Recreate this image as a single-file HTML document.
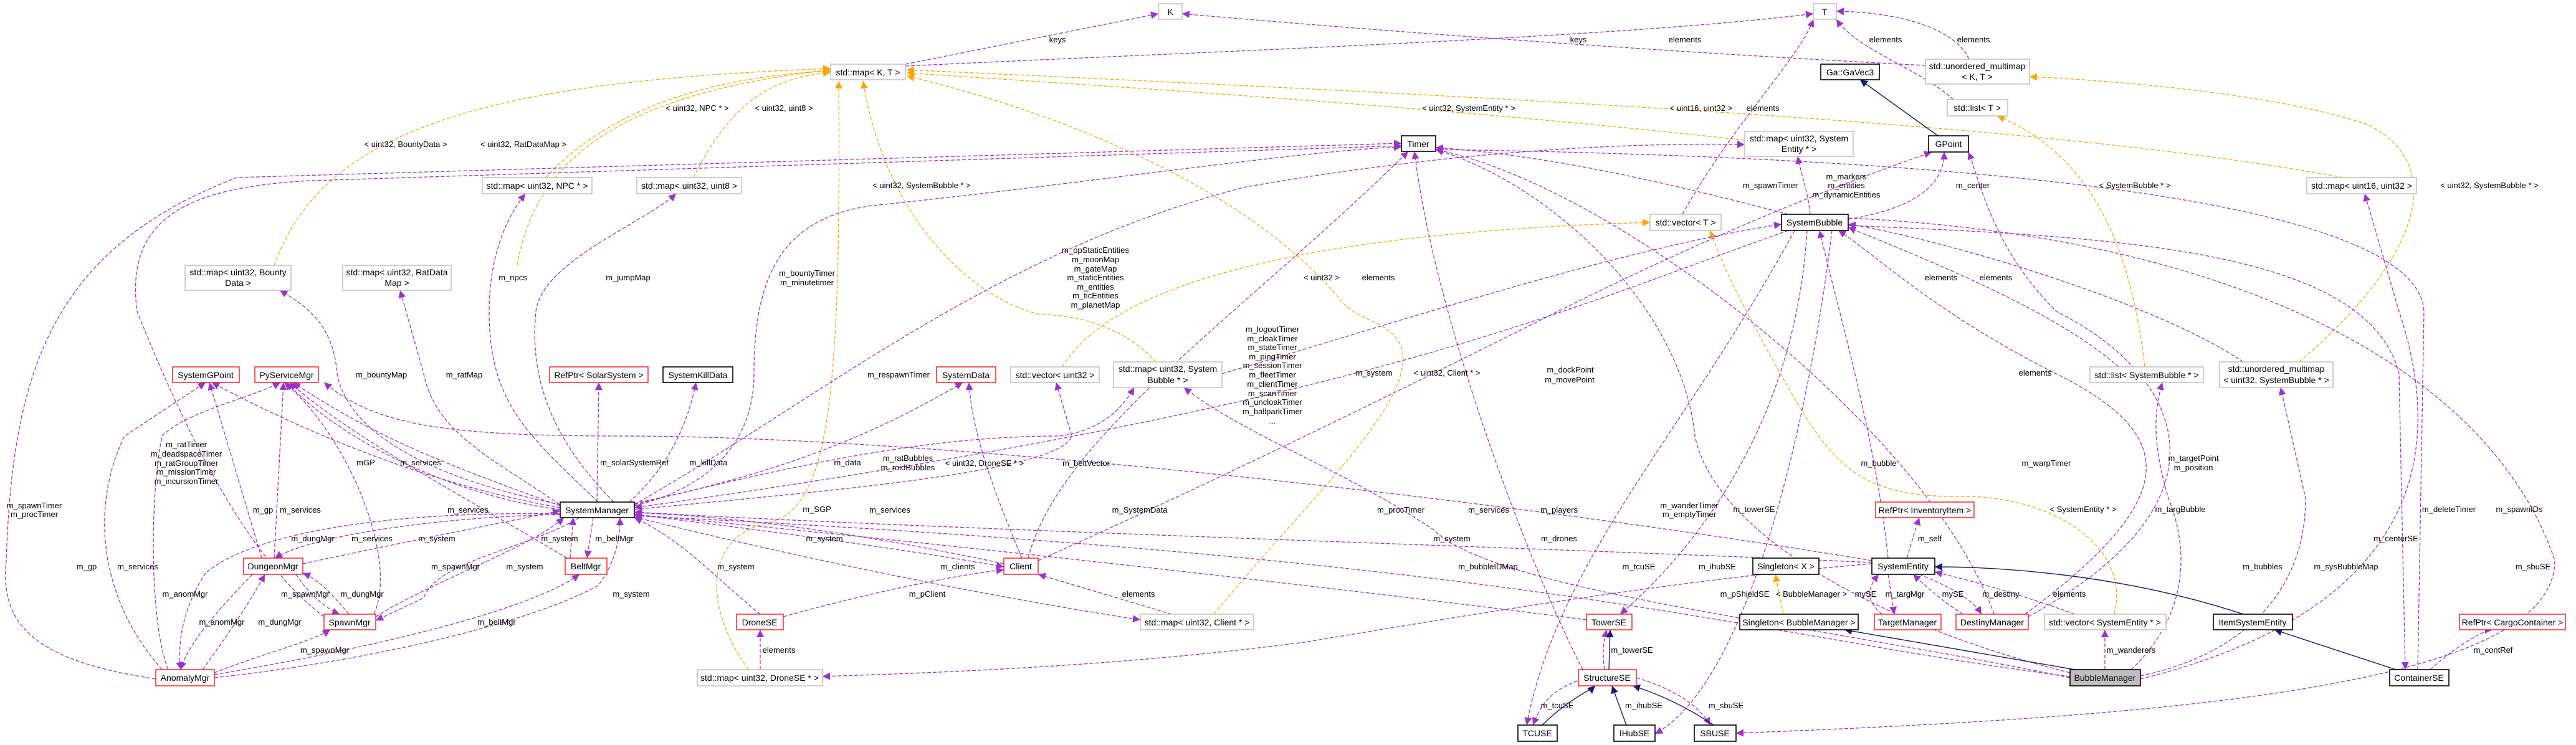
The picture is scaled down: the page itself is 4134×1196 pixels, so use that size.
<!DOCTYPE html>
<html><head><meta charset="utf-8"><style>
html,body{margin:0;padding:0;background:#fff;}
svg{display:block;}
text{font-family:"Liberation Sans",sans-serif;}
.n text{font-size:14px;}
.l{font-size:13px;text-anchor:middle;fill:#000;}
.p{stroke:#9a32cd;stroke-width:1.3;stroke-dasharray:6,3;fill:none;marker-end:url(#ap);}
.o{stroke:#ffa500;stroke-width:1.3;stroke-dasharray:6,3;fill:none;marker-end:url(#ao);}
.v{stroke:#191970;stroke-width:1.4;fill:none;marker-end:url(#an);}
.g{fill:#fff;stroke:#bfbfbf;stroke-width:1.5;}
.r{fill:#fff;stroke:#ff0000;stroke-width:1.3;}
.b{fill:#fff;stroke:#000;stroke-width:1.6;}
</style></head><body>
<svg width="4134" height="1196" viewBox="0 0 4134 1196" xmlns="http://www.w3.org/2000/svg">
<defs>
<marker id="ap" viewBox="0 0 10 10" refX="10" refY="5" markerWidth="12" markerHeight="12" markerUnits="userSpaceOnUse" orient="auto"><path d="M0,0 L10,5 L0,10 z" fill="#9a32cd"/></marker>
<marker id="ao" viewBox="0 0 10 10" refX="10" refY="5" markerWidth="12" markerHeight="12" markerUnits="userSpaceOnUse" orient="auto"><path d="M0,0 L10,5 L0,10 z" fill="#ffa500"/></marker>
<marker id="an" viewBox="0 0 10 10" refX="10" refY="5" markerWidth="12" markerHeight="12" markerUnits="userSpaceOnUse" orient="auto"><path d="M0,0 L10,5 L0,10 z" fill="#191970"/></marker>
</defs>

<!-- orange -->
<path class="o" d="M440,426 C520,200 800,130 1333,110"/>
<path class="o" d="M830,426 C860,250 1000,150 1333,112"/>
<path class="o" d="M876,285 C1000,150 1200,120 1333,114"/>
<path class="o" d="M1113,285 C1180,150 1250,125 1333,116"/>
<path class="o" d="M1855,581 C1800,520 1720,505 1670,505 C1560,480 1420,350 1385,130"/>
<path class="o" d="M1201,1075 C1120,960 1140,860 1230,840 C1330,820 1350,650 1346,130"/>
<path class="o" d="M1705,589 C1800,430 2200,370 2648,357"/>
<path class="o" d="M1948,986 C2100,800 2270,650 2250,560 C2230,510 2180,520 2150,480 C2000,300 1700,180 1455,122"/>
<path class="o" d="M2800,225 C2300,170 1800,140 1455,117"/>
<path class="o" d="M3760,285 C3300,200 2500,160 1455,112"/>
<path class="o" d="M3393,986 C3420,880 3300,800 3160,797 C3000,800 2950,760 2880,640 C2800,500 2760,420 2745,370"/>
<path class="o" d="M3442,589 C3420,400 3360,250 3205,186"/>
<path class="o" d="M3690,581 C3900,400 3920,260 3800,200 C3650,150 3400,130 3257,123"/>
<path class="o" d="M2862,986 L2849,922"/>

<!-- purple -->
<path class="p" d="M1453,103 L1859,22"/>
<path class="p" d="M3090,105 C2600,80 2100,40 1897,22"/>
<path class="p" d="M1453,106 C2000,80 2600,60 2910,22"/>
<path class="p" d="M3160,95 C3140,50 3060,20 2947,18"/>
<path class="p" d="M3135,160 C3080,110 2980,80 2947,31"/>
<path class="p" d="M2700,344 C2780,200 2890,90 2910,31"/>
<path class="p" d="M900,810 C700,770 560,700 541,600 C535,520 490,490 449,466"/>
<path class="p" d="M905,815 C800,740 700,700 680,600 L642,466"/>
<path class="p" d="M960,806 C850,700 785,650 785,500 C785,400 820,340 843,311"/>
<path class="p" d="M985,806 C880,700 850,600 860,500 C870,420 1030,360 1085,311"/>
<path class="p" d="M899,815 C700,780 500,700 340,614"/>
<path class="p" d="M899,818 C750,800 560,720 460,614"/>
<path class="p" d="M899,812 C700,740 600,700 470,614"/>
<path class="p" d="M958,806 L961,614"/>
<path class="p" d="M1010,806 C1060,760 1100,700 1117,614"/>
<path class="p" d="M1018,808 C1250,760 1400,700 1545,614"/>
<path class="p" d="M952,831 L942,896"/>
<path class="p" d="M899,826 C700,830 500,860 441,896"/>
<path class="p" d="M930,831 C850,880 700,900 680,960 L603,996"/>
<path class="p" d="M899,825 C600,820 400,860 330,920 C290,980 285,1040 290,1075"/>
<path class="p" d="M486,905 C650,870 800,840 899,820"/>
<path class="p" d="M915,896 L920,831"/>
<path class="p" d="M603,990 C700,930 850,880 905,831"/>
<path class="p" d="M344,1088 C600,1060 850,1000 960,940 C990,900 995,860 995,831"/>
<path class="p" d="M910,896 C750,800 560,700 465,614"/>
<path class="p" d="M420,896 L336,614"/>
<path class="p" d="M440,896 L455,614"/>
<path class="p" d="M475,922 C500,960 530,980 545,986"/>
<path class="p" d="M560,986 C530,950 510,930 486,920"/>
<path class="p" d="M600,986 C640,900 560,700 456,614"/>
<path class="p" d="M260,1075 C150,950 150,800 200,700 L330,614"/>
<path class="p" d="M270,1075 C240,1000 240,800 260,700 C300,660 400,640 450,614"/>
<path class="p" d="M325,1075 C380,1000 410,950 425,922"/>
<path class="p" d="M405,922 C330,1000 300,1040 290,1075"/>
<path class="p" d="M344,1080 C420,1050 500,1030 530,1011"/>
<path class="p" d="M344,1083 C600,1040 850,980 930,922"/>
<path class="p" d="M520,990 C400,900 300,700 220,500 C200,350 300,300 500,290 L2249,234"/>
<path class="p" d="M250,1090 C50,1060 0,1000 10,900 C20,600 80,400 380,285 L2249,230"/>
<path class="p" d="M1018,812 C1150,780 1210,700 1210,600 C1210,450 1250,350 1400,330 C1700,300 2100,240 2249,236"/>
<path class="p" d="M1640,896 C1600,800 1560,700 1555,614"/>
<path class="p" d="M1018,818 C1300,790 1700,760 1720,700 L1695,614"/>
<path class="p" d="M1018,810 C1300,740 1500,700 1700,700 C1780,690 1810,640 1820,622"/>
<path class="p" d="M3322,1088 C2900,1000 2400,950 2300,850 C2150,750 2000,700 1900,622"/>
<path class="p" d="M1961,600 C2300,500 2600,400 2859,360"/>
<path class="p" d="M1611,905 C1400,860 1200,830 1018,823"/>
<path class="p" d="M1018,826 C1300,860 1500,890 1611,910"/>
<path class="p" d="M1018,830 C1300,900 1600,960 1830,995"/>
<path class="p" d="M1880,986 L1666,922"/>
<path class="p" d="M1220,986 C1150,930 1100,870 1018,831"/>
<path class="p" d="M1257,990 C1400,950 1550,920 1611,915"/>
<path class="p" d="M1220,1075 L1220,1011"/>
<path class="p" d="M3004,905 C2700,930 2400,980 2100,1030 C1800,1070 1500,1080 1320,1086"/>
<path class="p" d="M3004,903 C2500,880 1500,850 1018,822"/>
<path class="p" d="M3004,900 C2400,800 1500,700 1000,700 C700,700 600,680 520,614"/>
<path class="p" d="M3322,1086 C2800,1020 2500,900 1018,828"/>
<path class="p" d="M2870,370 C2500,500 2200,650 1018,815"/>
<path class="p" d="M3030,896 C3010,700 2950,500 2920,370"/>
<path class="p" d="M3200,986 C3100,700 2600,300 2304,240"/>
<path class="p" d="M3250,986 C3500,800 3500,700 3300,600 C3100,500 3000,400 2950,370"/>
<path class="p" d="M3255,990 C3600,800 3500,600 3300,500 C3200,400 3180,300 3159,244"/>
<path class="p" d="M3080,922 C3150,950 3170,970 3180,986"/>
<path class="p" d="M3150,986 C3110,960 3090,940 3070,922"/>
<path class="p" d="M3030,922 L3040,986"/>
<path class="p" d="M3020,986 C2990,960 3000,940 3015,922"/>
<path class="p" d="M3060,896 L3080,831"/>
<path class="p" d="M3330,986 C3200,940 3150,930 3105,918"/>
<path class="p" d="M3378,1075 L3378,1011"/>
<path class="p" d="M3420,1075 C3500,1000 3520,900 3480,800 C3450,700 3460,650 3470,614"/>
<path class="p" d="M3435,1085 C3600,1050 3700,950 3700,800 L3660,622"/>
<path class="p" d="M3435,1090 C3800,1000 3950,800 3850,500 L3795,311"/>
<path class="p" d="M3400,589 C3300,500 3100,420 2966,365"/>
<path class="p" d="M3600,581 C3450,480 3100,380 2966,360"/>
<path class="p" d="M2966,352 C3100,330 3120,280 3120,244"/>
<path class="p" d="M2905,344 C2900,300 2890,280 2885,251"/>
<path class="p" d="M2870,344 C2700,300 2500,250 2304,237"/>
<path class="p" d="M1018,810 C1300,650 1600,400 2000,300 C2400,230 2700,230 2800,232"/>
<path class="p" d="M2966,362 C3400,380 3800,400 3850,600 L3860,1075"/>
<path class="p" d="M3880,1075 L3890,500 C3880,300 3000,250 2304,240"/>
<path class="p" d="M3900,1075 C3950,1030 3990,1011 4000,1011"/>
<path class="p" d="M2966,350 C3600,380 4000,600 4100,900 C4100,1100 3500,1150 2786,1177"/>
<path class="p" d="M2540,1075 C2450,900 2300,500 2270,243"/>
<path class="p" d="M2575,1075 C2570,1040 2575,1030 2578,1011"/>
<path class="p" d="M2900,370 C2880,700 2700,900 2600,986"/>
<path class="p" d="M2880,370 C2700,700 2500,900 2450,1164"/>
<path class="p" d="M2540,1090 C2480,1110 2470,1140 2460,1164"/>
<path class="p" d="M2940,370 C2900,700 2800,1100 2656,1178"/>
<path class="p" d="M2626,1088 C2700,1110 2730,1140 2745,1164"/>
<path class="p" d="M3322,1080 C3000,1000 2750,850 2720,700 C2700,500 2500,300 2304,240"/>
<path class="p" d="M1666,900 C2000,750 2300,600 2500,500 C2800,350 3000,280 3100,244"/>
<path class="p" d="M1650,896 C1700,700 2000,500 2260,243"/>
<path class="p" d="M2546,995 C2200,950 1500,870 1018,826"/>

<!-- navy -->
<path class="v" d="M3110,218 L2985,128"/>
<path class="v" d="M3330,1075 L2960,1011"/>
<path class="v" d="M3600,986 C3400,920 3200,910 3105,910"/>
<path class="v" d="M3845,1075 L3650,1011"/>
<path class="v" d="M2582,1075 L2584,1011"/>
<path class="v" d="M2475,1164 C2520,1120 2550,1110 2560,1101"/>
<path class="v" d="M2610,1164 L2587,1101"/>
<path class="v" d="M2750,1164 C2700,1130 2650,1110 2620,1101"/>

<!-- nodes -->
<g class="n">
<rect class="g" x="1333" y="103" width="120" height="25"/><text x="1393" y="121" text-anchor="middle">std::map&lt; K, T &gt;</text>
<rect class="g" x="1859" y="6" width="38" height="25"/><text x="1878" y="24" text-anchor="middle">K</text>
<rect class="g" x="2910" y="6" width="37" height="25"/><text x="2928" y="24" text-anchor="middle">T</text>
<rect class="g" x="297" y="426" width="170" height="40"/><text x="382" y="442" text-anchor="middle">std::map&lt; uint32, Bounty</text><text x="382" y="459" text-anchor="middle">Data &gt;</text>
<rect class="g" x="550" y="426" width="174" height="40"/><text x="637" y="442" text-anchor="middle">std::map&lt; uint32, RatData</text><text x="637" y="459" text-anchor="middle">Map &gt;</text>
<rect class="g" x="774" y="285" width="176" height="26"/><text x="862" y="303" text-anchor="middle">std::map&lt; uint32, NPC * &gt;</text>
<rect class="g" x="1022" y="285" width="168" height="26"/><text x="1106" y="303" text-anchor="middle">std::map&lt; uint32, uint8 &gt;</text>
<rect class="b" x="2249" y="218" width="55" height="25"/><text x="2276" y="236" text-anchor="middle">Timer</text>
<rect class="g" x="2648" y="344" width="114" height="26"/><text x="2705" y="362" text-anchor="middle">std::vector&lt; T &gt;</text>
<rect class="b" x="2859" y="344" width="107" height="26"/><text x="2912" y="362" text-anchor="middle">SystemBubble</text>
<rect class="b" x="2922" y="103" width="94" height="25"/><text x="2969" y="121" text-anchor="middle">Ga::GaVec3</text>
<rect class="g" x="3090" y="95" width="167" height="40"/><text x="3173" y="111" text-anchor="middle">std::unordered_multimap</text><text x="3173" y="128" text-anchor="middle">&lt; K, T &gt;</text>
<rect class="g" x="3125" y="160" width="97" height="26"/><text x="3173" y="178" text-anchor="middle">std::list&lt; T &gt;</text>
<rect class="g" x="2800" y="211" width="174" height="40"/><text x="2887" y="227" text-anchor="middle">std::map&lt; uint32, System</text><text x="2887" y="244" text-anchor="middle">Entity * &gt;</text>
<rect class="b" x="3095" y="218" width="64" height="26"/><text x="3127" y="236" text-anchor="middle">GPoint</text>
<rect class="g" x="3702" y="285" width="176" height="26"/><text x="3790" y="303" text-anchor="middle">std::map&lt; uint16, uint32 &gt;</text>
<rect class="r" x="277" y="589" width="107" height="25"/><text x="330" y="607" text-anchor="middle">SystemGPoint</text>
<rect class="r" x="409" y="589" width="102" height="25"/><text x="460" y="607" text-anchor="middle">PyServiceMgr</text>
<rect class="g" x="1787" y="581" width="174" height="41"/><text x="1874" y="597" text-anchor="middle">std::map&lt; uint32, System</text><text x="1874" y="615" text-anchor="middle">Bubble * &gt;</text>
<rect class="g" x="1622" y="589" width="142" height="25"/><text x="1693" y="607" text-anchor="middle">std::vector&lt; uint32 &gt;</text>
<rect class="r" x="1503" y="589" width="95" height="25"/><text x="1550" y="607" text-anchor="middle">SystemData</text>
<rect class="r" x="882" y="589" width="158" height="25"/><text x="961" y="607" text-anchor="middle">RefPtr&lt; SolarSystem &gt;</text>
<rect class="b" x="1064" y="589" width="112" height="25"/><text x="1120" y="607" text-anchor="middle">SystemKillData</text>
<rect class="g" x="3354" y="589" width="182" height="25"/><text x="3445" y="607" text-anchor="middle">std::list&lt; SystemBubble * &gt;</text>
<rect class="g" x="3562" y="581" width="182" height="41"/><text x="3653" y="597" text-anchor="middle">std::unordered_multimap</text><text x="3653" y="615" text-anchor="middle">&lt; uint32, SystemBubble * &gt;</text>
<rect class="b" x="899" y="806" width="119" height="25"/><text x="958" y="824" text-anchor="middle">SystemManager</text>
<rect class="r" x="3010" y="806" width="158" height="25"/><text x="3089" y="824" text-anchor="middle">RefPtr&lt; InventoryItem &gt;</text>
<rect class="r" x="391" y="896" width="95" height="26"/><text x="438" y="914" text-anchor="middle">DungeonMgr</text>
<rect class="r" x="907" y="896" width="67" height="26"/><text x="940" y="914" text-anchor="middle">BeltMgr</text>
<rect class="r" x="1611" y="896" width="55" height="26"/><text x="1638" y="914" text-anchor="middle">Client</text>
<rect class="b" x="3004" y="896" width="101" height="26"/><text x="3054" y="914" text-anchor="middle">SystemEntity</text>
<rect class="b" x="2813" y="896" width="106" height="26"/><text x="2866" y="914" text-anchor="middle">Singleton&lt; X &gt;</text>
<rect class="r" x="520" y="986" width="83" height="25"/><text x="561" y="1004" text-anchor="middle">SpawnMgr</text>
<rect class="r" x="1182" y="986" width="75" height="25"/><text x="1219" y="1004" text-anchor="middle">DroneSE</text>
<rect class="g" x="1830" y="986" width="182" height="25"/><text x="1921" y="1004" text-anchor="middle">std::map&lt; uint32, Client * &gt;</text>
<rect class="r" x="2546" y="986" width="73" height="25"/><text x="2582" y="1004" text-anchor="middle">TowerSE</text>
<rect class="b" x="2792" y="986" width="190" height="25"/><text x="2887" y="1004" text-anchor="middle">Singleton&lt; BubbleManager &gt;</text>
<rect class="r" x="3008" y="986" width="107" height="25"/><text x="3061" y="1004" text-anchor="middle">TargetManager</text>
<rect class="r" x="3139" y="986" width="116" height="25"/><text x="3197" y="1004" text-anchor="middle">DestinyManager</text>
<rect class="g" x="3281" y="986" width="195" height="25"/><text x="3378" y="1004" text-anchor="middle">std::vector&lt; SystemEntity * &gt;</text>
<rect class="b" x="3552" y="986" width="127" height="25"/><text x="3615" y="1004" text-anchor="middle">ItemSystemEntity</text>
<rect class="r" x="3947" y="986" width="170" height="25"/><text x="4032" y="1004" text-anchor="middle">RefPtr&lt; CargoContainer &gt;</text>
<rect class="r" x="250" y="1075" width="94" height="26"/><text x="297" y="1093" text-anchor="middle">AnomalyMgr</text>
<rect class="g" x="1119" y="1075" width="201" height="26"/><text x="1219" y="1093" text-anchor="middle">std::map&lt; uint32, DroneSE * &gt;</text>
<rect class="r" x="2533" y="1075" width="93" height="26"/><text x="2579" y="1093" text-anchor="middle">StructureSE</text>
<rect x="3322" y="1075" width="113" height="26" fill="#bfbfbf" stroke="#000" stroke-width="1.6"/><text x="3378" y="1093" text-anchor="middle">BubbleManager</text>
<rect class="b" x="3835" y="1075" width="95" height="26"/><text x="3882" y="1093" text-anchor="middle">ContainerSE</text>
<rect class="b" x="2436" y="1164" width="63" height="26"/><text x="2467" y="1182" text-anchor="middle">TCUSE</text>
<rect class="b" x="2590" y="1164" width="66" height="26"/><text x="2623" y="1182" text-anchor="middle">IHubSE</text>
<rect class="b" x="2719" y="1164" width="67" height="26"/><text x="2752" y="1182" text-anchor="middle">SBUSE</text>
</g>

<!-- labels -->
<g class="l">
<text x="651" y="236">&lt; uint32, BountyData &gt;</text>
<text x="840" y="236">&lt; uint32, RatDataMap &gt;</text>
<text x="1119" y="178">&lt; uint32, NPC * &gt;</text>
<text x="1258" y="178">&lt; uint32, uint8 &gt;</text>
<text x="823" y="450">m_npcs</text>
<text x="1008" y="450">m_jumpMap</text>
<text x="1295" y="443">m_bountyTimer</text>
<text x="1295" y="458">m_minutetimer</text>
<text x="1697" y="68">keys</text>
<text x="2533" y="68">keys</text>
<text x="2704" y="68">elements</text>
<text x="2357" y="178">&lt; uint32, SystemEntity * &gt;</text>
<text x="2730" y="178">&lt; uint16, uint32 &gt;</text>
<text x="1479" y="302">&lt; uint32, SystemBubble * &gt;</text>
<text x="1758" y="406">m_opStaticEntities</text>
<text x="1758" y="421">m_moonMap</text>
<text x="1758" y="436">m_gateMap</text>
<text x="1758" y="450">m_staticEntities</text>
<text x="1758" y="465">m_entities</text>
<text x="1758" y="479">m_ticEntities</text>
<text x="1758" y="494">m_planetMap</text>
<text x="2121" y="450">&lt; uint32 &gt;</text>
<text x="2212" y="450">elements</text>
<text x="2042" y="533">m_logoutTimer</text>
<text x="2042" y="548">m_cloakTimer</text>
<text x="2042" y="562">m_stateTimer</text>
<text x="2042" y="577">m_pingTimer</text>
<text x="2042" y="591">m_sessionTimer</text>
<text x="2042" y="606">m_fleetTimer</text>
<text x="2042" y="621">m_clientTimer</text>
<text x="2042" y="636">m_scanTimer</text>
<text x="2042" y="650">m_uncloakTimer</text>
<text x="2042" y="665">m_ballparkTimer</text>
<text x="2042" y="681">...</text>
<text x="2520" y="598">m_dockPoint</text>
<text x="2519" y="614">m_movePoint</text>
<text x="1442" y="606">m_respawnTimer</text>
<text x="2205" y="603">m_system</text>
<text x="2322" y="603">&lt; uint32, Client * &gt;</text>
<text x="3026" y="68">elements</text>
<text x="3167" y="68">elements</text>
<text x="2829" y="178">elements</text>
<text x="2841" y="302">m_spawnTimer</text>
<text x="2963" y="288">m_markers</text>
<text x="2963" y="302">m_entities</text>
<text x="2963" y="317">m_dynamicEntities</text>
<text x="3166" y="302">m_center</text>
<text x="3426" y="302">&lt; SystemBubble * &gt;</text>
<text x="3995" y="302">&lt; uint32, SystemBubble * &gt;</text>
<text x="3115" y="450">elements</text>
<text x="3203" y="450">elements</text>
<text x="3266" y="603">elements</text>
<text x="612" y="606">m_bountyMap</text>
<text x="745" y="606">m_ratMap</text>
<text x="299" y="718">m_ratTimer</text>
<text x="299" y="733">m_deadspaceTimer</text>
<text x="299" y="748">m_ratGroupTimer</text>
<text x="299" y="762">m_missionTimer</text>
<text x="299" y="777">m_incursionTimer</text>
<text x="55" y="816">m_spawnTimer</text>
<text x="55" y="830">m_procTimer</text>
<text x="422" y="823">m_gp</text>
<text x="482" y="823">m_services</text>
<text x="587" y="747">mGP</text>
<text x="675" y="747">m_services</text>
<text x="1018" y="747">m_solarSystemRef</text>
<text x="1137" y="747">m_killData</text>
<text x="1360" y="747">m_data</text>
<text x="751" y="823">m_services</text>
<text x="1311" y="822">m_SGP</text>
<text x="502" y="869">m_dungMgr</text>
<text x="597" y="869">m_services</text>
<text x="701" y="869">m_system</text>
<text x="898" y="869">m_system</text>
<text x="986" y="869">m_beltMgr</text>
<text x="1323" y="869">m_system</text>
<text x="139" y="914">m_gp</text>
<text x="221" y="914">m_services</text>
<text x="731" y="914">m_spawnMgr</text>
<text x="842" y="914">m_system</text>
<text x="1181" y="914">m_system</text>
<text x="297" y="958">m_anomMgr</text>
<text x="490" y="958">m_spawnMgr</text>
<text x="581" y="958">m_dungMgr</text>
<text x="1013" y="958">m_system</text>
<text x="356" y="1003">m_anomMgr</text>
<text x="449" y="1003">m_dungMgr</text>
<text x="797" y="1003">m_beltMgr</text>
<text x="521" y="1048">m_spawnMgr</text>
<text x="1250" y="1048">elements</text>
<text x="1457" y="740">m_ratBubbles</text>
<text x="1457" y="755">m_roidBubbles</text>
<text x="1580" y="748">&lt; uint32, DroneSE * &gt;</text>
<text x="1743" y="748">m_beltVector</text>
<text x="1829" y="823">m_SystemData</text>
<text x="2248" y="823">m_procTimer</text>
<text x="2389" y="823">m_services</text>
<text x="2502" y="823">m_players</text>
<text x="2711" y="816">m_wanderTimer</text>
<text x="2711" y="830">m_emptyTimer</text>
<text x="1428" y="823">m_services</text>
<text x="2330" y="869">m_system</text>
<text x="2502" y="869">m_drones</text>
<text x="1537" y="914">m_clients</text>
<text x="2388" y="914">m_bubbleIDMap</text>
<text x="2630" y="914">m_tcuSE</text>
<text x="2756" y="914">m_ihubSE</text>
<text x="1488" y="958">m_pClient</text>
<text x="1827" y="958">elements</text>
<text x="2619" y="1048">m_towerSE</text>
<text x="2499" y="1137">m_tcuSE</text>
<text x="2638" y="1137">m_ihubSE</text>
<text x="2770" y="1137">m_sbuSE</text>
<text x="3015" y="748">m_bubble</text>
<text x="3284" y="748">m_warpTimer</text>
<text x="3520" y="740">m_targetPoint</text>
<text x="3520" y="755">m_position</text>
<text x="2815" y="822">m_towerSE</text>
<text x="3343" y="822">&lt; SystemEntity * &gt;</text>
<text x="3499" y="822">m_targBubble</text>
<text x="3930" y="822">m_deleteTimer</text>
<text x="4043" y="822">m_spawnIDs</text>
<text x="3845" y="869">m_centerSE</text>
<text x="3097" y="869">m_self</text>
<text x="3631" y="914">m_bubbles</text>
<text x="3765" y="914">m_sysBubbleMap</text>
<text x="4065" y="914">m_sbuSE</text>
<text x="2800" y="958">m_pShieldSE</text>
<text x="2907" y="958">&lt; BubbleManager &gt;</text>
<text x="2994" y="958">mySE</text>
<text x="3057" y="958">m_targMgr</text>
<text x="3134" y="958">mySE</text>
<text x="3211" y="958">m_destiny</text>
<text x="3321" y="958">elements</text>
<text x="3420" y="1048">m_wanderers</text>
<text x="4001" y="1048">m_contRef</text>
</g>
</svg>
</body></html>
